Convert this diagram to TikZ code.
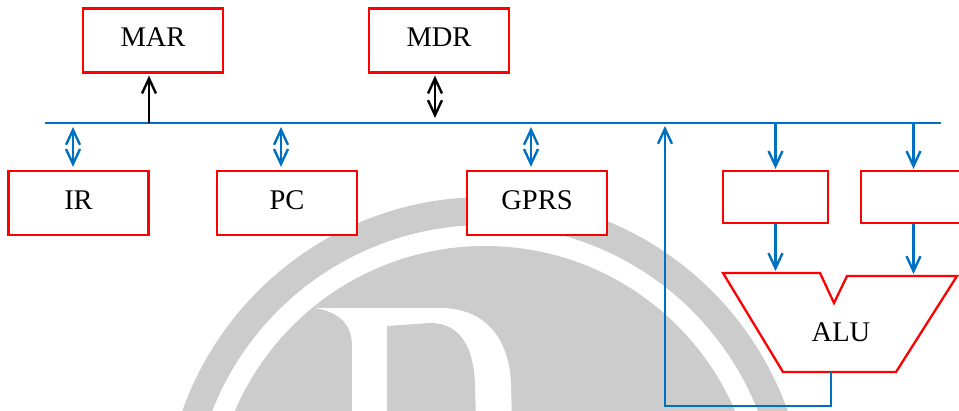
\documentclass[tikz,border=0pt]{standalone}
\usepackage{fontspec}
\setmainfont{Liberation Serif}
\usetikzlibrary{arrows.meta}
\definecolor{busblue}{HTML}{0070C0}
\definecolor{boxred}{HTML}{FF0000}
\definecolor{markgray}{HTML}{CCCCCC}

\begin{document}
\begin{tikzpicture}[x=1pt,y=-1pt,
  >={Straight Barb[length=15pt,width=14pt]},
  box/.style={draw=boxred, line width=2.3pt, fill=white, minimum width=140pt,
    minimum height=64pt, inner sep=0pt, font=\fontsize{28.5}{34}\selectfont, text depth=6pt},
  reg/.style={box, minimum width=105pt, minimum height=52pt},
  busline/.style={draw=busblue, line width=2.4pt},
  blkline/.style={draw=black, line width=2.4pt},
  alushape/.style={draw=boxred, line width=2.3pt, fill=white, line join=miter},
]
\useasboundingbox (0,0) rectangle (959,410);

% background emblem: ring, disk and letter D
\begin{scope}
  \clip (0,0) rectangle (959,410);
  \fill[markgray, even odd rule] (485,518) circle[radius=321] (485,518) circle[radius=293];
  \fill[markgray] (485,518) circle[radius=272];
  \fill[white] (315,308) -- (440,308) .. controls (490,308) and (510,345) .. (511,385)
    -- (512,420) -- (352,420) -- (352,345) .. controls (352,325) and (340,312) .. (315,308) -- cycle;
  \fill[markgray] (387,326) -- (430,323) .. controls (462,323) and (474,350) .. (475,385)
    -- (476,420) -- (387,420) -- cycle;
\end{scope}

% registers
\node[box] (mar) at (153,40.5) {MAR};
\node[box] (mdr) at (439,40.5) {MDR};
\node[box] (ir) at (78.5,203) {IR};
\node[box] (pc) at (287,203) {PC};
\node[box] (gprs) at (537,203) {GPRS};
\node[reg] (ra) at (775.5,197) {};
\node[reg] (rb) at (913.5,197) {};

% ALU
\coordinate (aluA) at (723,273);
\coordinate (aluB) at (820,273);
\coordinate (aluN) at (834,303);
\coordinate (aluC) at (847,276);
\coordinate (aluD) at (957,276);
\coordinate (aluE) at (896,372);
\coordinate (aluF) at (783,372);
\draw[alushape] (aluA) -- (aluB) -- (aluN) -- (aluC) -- (aluD) -- (aluE) -- (aluF) -- cycle;
\node[font=\fontsize{28.5}{34}\selectfont, inner sep=0pt] (alu) at (841,332) {ALU};

% internal bus
\coordinate (busL) at (45,123);
\coordinate (busR) at (941,123);
\draw[busline] (busL) -- (busR);

\coordinate (bMAR) at (149,123);
\coordinate (bMDR) at (435,123);
\coordinate (bIR) at (73,123);
\coordinate (bPC) at (281,123);
\coordinate (bGPRS) at (531,123);
\coordinate (bFB) at (665,123);
\coordinate (bRA) at (775.5,123);
\coordinate (bRB) at (913.5,123);

% memory side
\draw[blkline, ->, shorten >=2pt] (bMAR) -- (bMAR |- mar.south);
\draw[blkline, <->, shorten <=5pt, shorten >=2pt] (bMDR) -- (bMDR |- mdr.south);

% register transfers
\draw[busline, <->, shorten <=4pt, shorten >=3pt] (bIR) -- (bIR |- ir.north);
\draw[busline, <->, shorten <=4pt, shorten >=3pt] (bPC) -- (bPC |- pc.north);
\draw[busline, <->, shorten <=4pt, shorten >=3pt] (bGPRS) -- (bGPRS |- gprs.north);

% ALU operands
\draw[busline, ->, shorten >=1pt] (bRA) -- (bRA |- ra.north);
\draw[busline, ->, shorten >=1pt] (bRB) -- (bRB |- rb.north);
\draw[busline, ->, shorten >=2pt] (ra.south) -- (ra.south |- aluA);
\draw[busline, ->, shorten >=2pt] (rb.south) -- (rb.south |- aluD);

% ALU result back to the bus
\coordinate (aluOut) at (831,372);
\coordinate (fbA) at (831,406);
\coordinate (fbB) at (665,406);
\draw[busline, ->, shorten >=3pt] (aluOut) -- (fbA) -- (fbB) -- (bFB);
\end{tikzpicture}
\end{document}
